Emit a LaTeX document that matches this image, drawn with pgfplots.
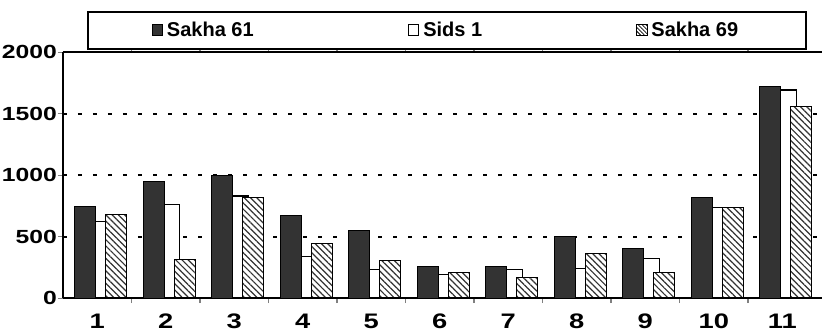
\documentclass[border=0pt]{standalone}
\usepackage{fontspec}
\setmainfont{Liberation Sans}
\newfontfamily\tickfont[FakeStretch=1.3]{Liberation Sans}
\usepackage{pgfplots}
\pgfplotsset{compat=1.18}
\usetikzlibrary{patterns.meta}
\definecolor{darkbar}{HTML}{333333}
\begin{document}
\begin{tikzpicture}
\useasboundingbox (-31.5pt,-17.5pt) rectangle (381pt,149pt);
\begin{axis}[
  scale only axis, width=379.5pt, height=123pt,
  at={(0,0)}, anchor=south west,
  xmin=0.5, xmax=11.58, ymin=0, ymax=2000,
  axis x line*=box, axis y line*=left,
  axis line style={line width=1pt},
  xtick={1,...,11},
  minor x tick num=1,
  every major x tick/.style={draw=none},
  every minor x tick/.style={line width=0.8pt},
  ytick={0,500,1000,1500,2000},
  tick align=outside, major tick length=2.5pt, minor tick length=2.5pt,
  ymajorgrids,
  grid style={black, line width=1pt, dash pattern=on 2pt off 5.5pt},
  /pgf/number format/assume math mode=true,
  /pgf/number format/1000 sep={},
  yticklabel style={font=\tickfont\fontsize{9.5}{10}\selectfont\bfseries, xshift=3pt},
  xticklabel style={font=\tickfont\fontsize{10.5}{11}\selectfont\bfseries, yshift=-2pt},
  legend columns=3,
  legend image code/.code={\draw[#1] (0pt,-2.6pt) rectangle (5.2pt,2.8pt);},
  legend style={at={(0.0316,1.008)}, anchor=south west, draw=black, line width=0.8pt,
    inner xsep=32pt, inner ysep=3pt,
    font=\fontsize{10}{12}\selectfont\bfseries,
    /tikz/every even column/.append style={column sep=75pt}},
]
\addlegendimage{fill=darkbar, draw=black, line width=0.4pt}
\addlegendentry{Sakha 61}
\addlegendimage{fill=white, draw=black, line width=0.6pt}
\addlegendentry{Sids 1}
\addlegendimage{fill=white, draw=black, line width=0.4pt, postaction={pattern={Lines[angle=-45,distance=1.4pt,line width=0.4pt]}, pattern color=black}}
\addlegendentry{Sakha 69}

% Sids 1 (drawn first, sits behind)
\addplot[ybar, bar width=10.5pt, bar shift=1.75pt, fill=white, draw=black, line width=0.7pt, forget plot]
 coordinates {(1,620) (2,760) (3,830) (4,335) (5,230) (6,190) (7,230) (8,240) (9,320) (10,735) (11,1690)};
% Sakha 61
\addplot[ybar, bar width=10.5pt, bar shift=-6pt, fill=darkbar, draw=black, line width=0.5pt, forget plot]
 coordinates {(1,740) (2,950) (3,1000) (4,670) (5,550) (6,255) (7,255) (8,500) (9,405) (10,820) (11,1720)};
% Sakha 69
\addplot[ybar, bar width=10.5pt, bar shift=9.5pt, fill=white, draw=black, line width=0.6pt, forget plot,
  postaction={pattern={Lines[angle=-45,distance=2.2pt,line width=0.6pt]}, pattern color=darkbar}]
 coordinates {(1,680) (2,310) (3,815) (4,445) (5,305) (6,205) (7,165) (8,365) (9,210) (10,735) (11,1560)};
\end{axis}
\end{tikzpicture}
\end{document}
